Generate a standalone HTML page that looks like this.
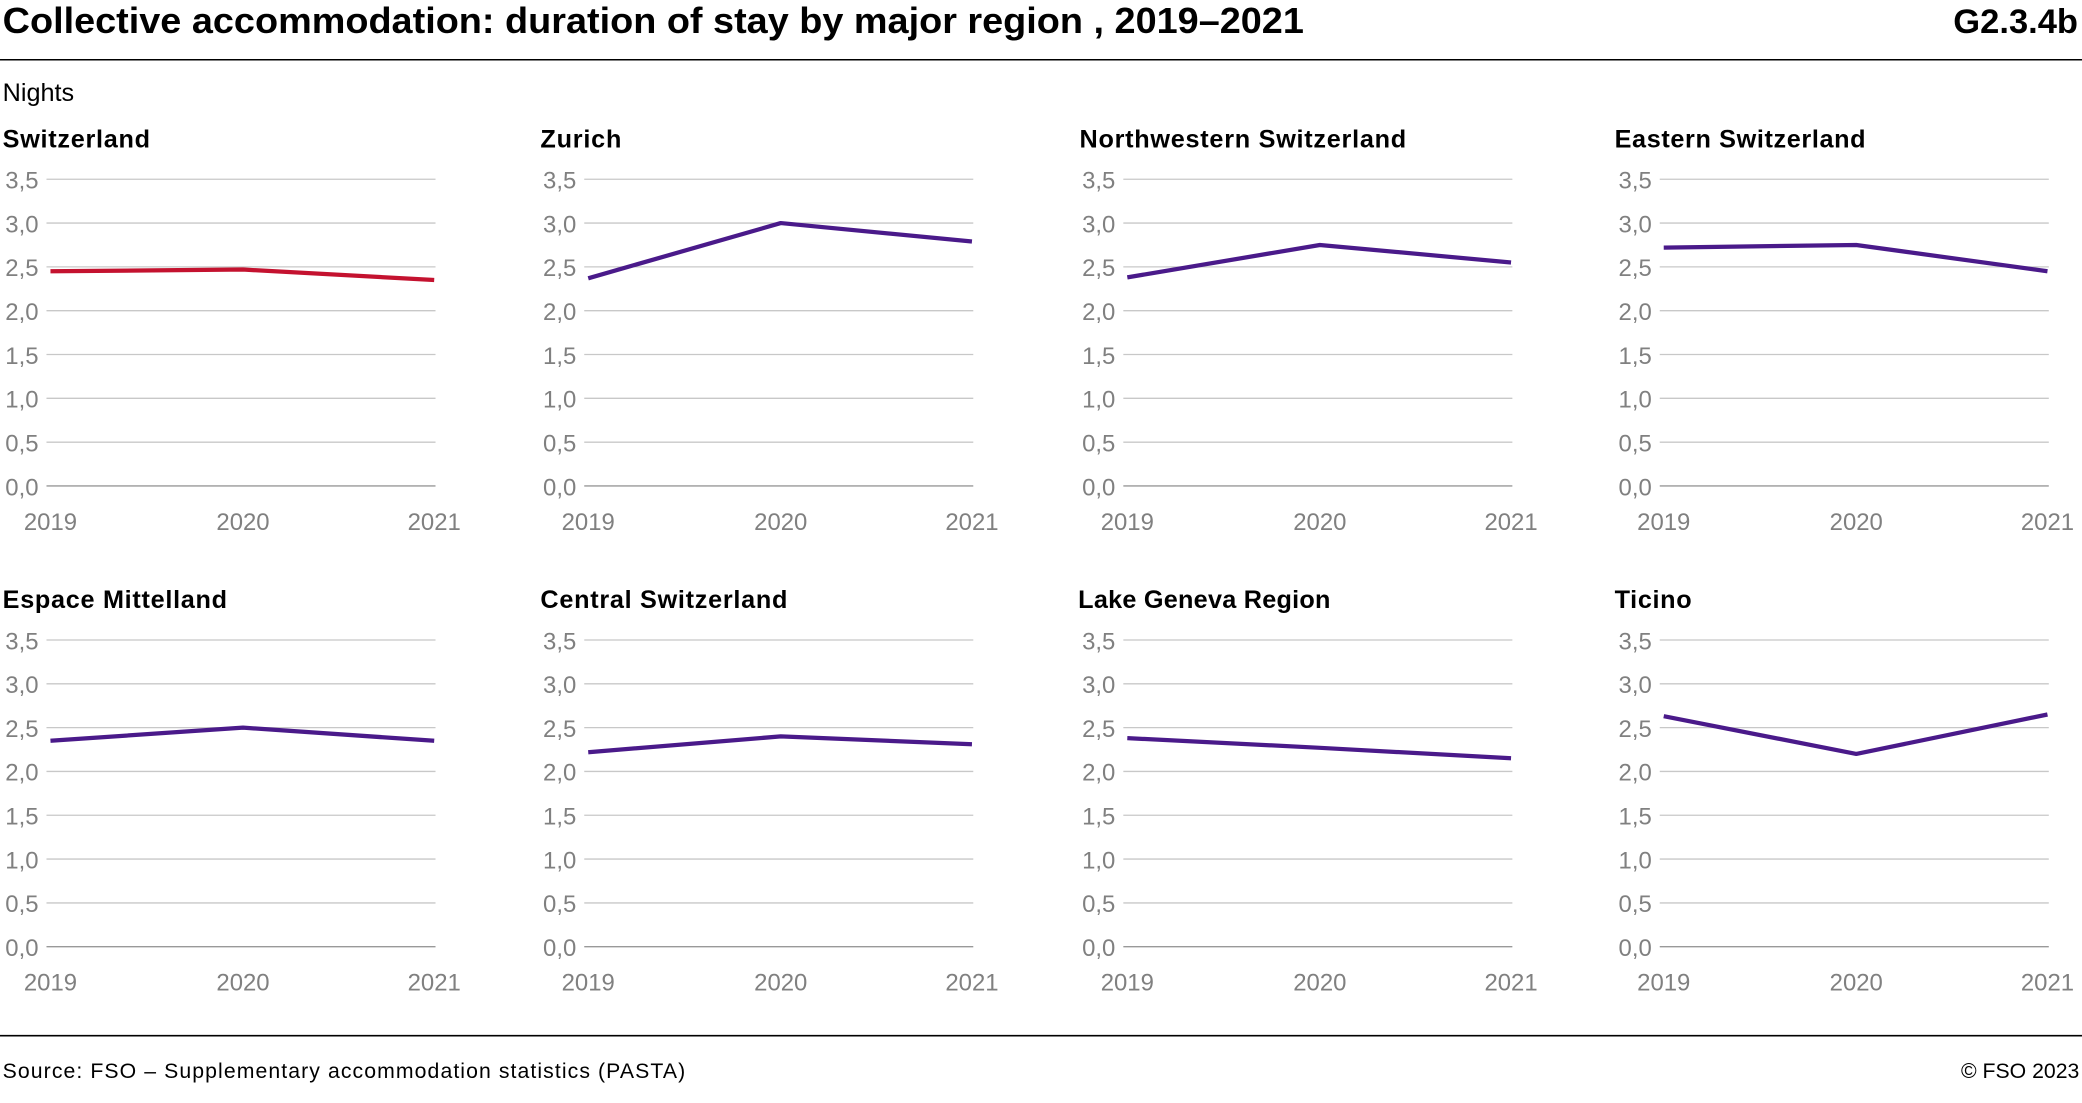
<!DOCTYPE html>
<html><head><meta charset="utf-8"><style>
html,body{margin:0;padding:0;background:#fff}
svg{display:block}
text{font-family:"Liberation Sans",sans-serif}
.t{font-weight:bold;font-size:19px;fill:#000}
.ax{font-size:18px;fill:#808080}
.g line{stroke:#c8c8c8;stroke-width:1}
.s{fill:none;stroke:#4a1a8a;stroke-width:3.2;stroke-linejoin:round}
</style></head><body>
<svg width="2082" height="1103" viewBox="0 0 1568 830.7" xmlns="http://www.w3.org/2000/svg">
<defs>
<g id="grid">
<g class="g">
<line x1="35" x2="328" y1="135" y2="135"/><line x1="35" x2="328" y1="168" y2="168"/>
<line x1="35" x2="328" y1="201" y2="201"/><line x1="35" x2="328" y1="234" y2="234"/>
<line x1="35" x2="328" y1="267" y2="267"/><line x1="35" x2="328" y1="300" y2="300"/>
<line x1="35" x2="328" y1="333" y2="333"/><line x1="35" x2="328" y1="366" y2="366" style="stroke:#999"/>
</g>
<g class="ax" text-anchor="end">
<text x="29" y="142">3,5</text><text x="29" y="175">3,0</text><text x="29" y="208">2,5</text>
<text x="29" y="241">2,0</text><text x="29" y="274">1,5</text><text x="29" y="307">1,0</text>
<text x="29" y="340">0,5</text><text x="29" y="373">0,0</text>
</g>
<g class="ax" text-anchor="middle">
<text x="38" y="399">2019</text><text x="183" y="399">2020</text><text x="327" y="399">2021</text>
</g>
</g>
</defs>
<text x="2" y="25" textLength="980" lengthAdjust="spacingAndGlyphs" style="font-weight:bold;font-size:27px">Collective accommodation: duration of stay by major region , 2019–2021</text>
<text x="1565" y="25" text-anchor="end" style="font-weight:bold;font-size:26px">G2.3.4b</text>
<line x1="0" x2="1568" y1="45" y2="45" stroke="#000" stroke-width="1.2"/>
<text x="2" y="76" style="font-size:19px">Nights</text>

<g transform="translate(0,0)"><use href="#grid"/><text class="t" x="2" y="111" textLength="111">Switzerland</text>
<polyline class="s" style="stroke:#c4122f" points="38,204.3 183,203 327,210.9"/></g>
<g transform="translate(405,0)"><use href="#grid"/><text class="t" x="2" y="111" textLength="61">Zurich</text>
<polyline class="s" points="38,209.6 183,168 327,181.9"/></g>
<g transform="translate(811,0)"><use href="#grid"/><text class="t" x="2" y="111" textLength="246">Northwestern Switzerland</text>
<polyline class="s" points="38,208.9 183,184.5 327,197.7"/></g>
<g transform="translate(1215,0)"><use href="#grid"/><text class="t" x="1" y="111" textLength="189">Eastern Switzerland</text>
<polyline class="s" points="38,186.5 183,184.5 327,204.3"/></g>

<g transform="translate(0,347)"><use href="#grid"/><text class="t" x="2" y="111" textLength="169">Espace Mittelland</text>
<polyline class="s" points="38,210.9 183,201 327,210.9"/></g>
<g transform="translate(405,347)"><use href="#grid"/><text class="t" x="2" y="111" textLength="186">Central Switzerland</text>
<polyline class="s" points="38,219.5 183,207.6 327,213.5"/></g>
<g transform="translate(811,347)"><use href="#grid"/><text class="t" x="1" y="111" textLength="190">Lake Geneva Region</text>
<polyline class="s" points="38,208.9 183,216.2 327,224.1"/></g>
<g transform="translate(1215,347)"><use href="#grid"/><text class="t" x="1" y="111" textLength="58">Ticino</text>
<polyline class="s" points="38,192.4 183,220.8 327,191.1"/></g>

<line x1="0" x2="1568" y1="780" y2="780" stroke="#000" stroke-width="1.2"/>
<text x="2" y="812" textLength="514" style="font-size:16px">Source: FSO – Supplementary accommodation statistics (PASTA)</text>
<text x="1566" y="812" text-anchor="end" style="font-size:16px">© FSO 2023</text>
</svg>
</body></html>
